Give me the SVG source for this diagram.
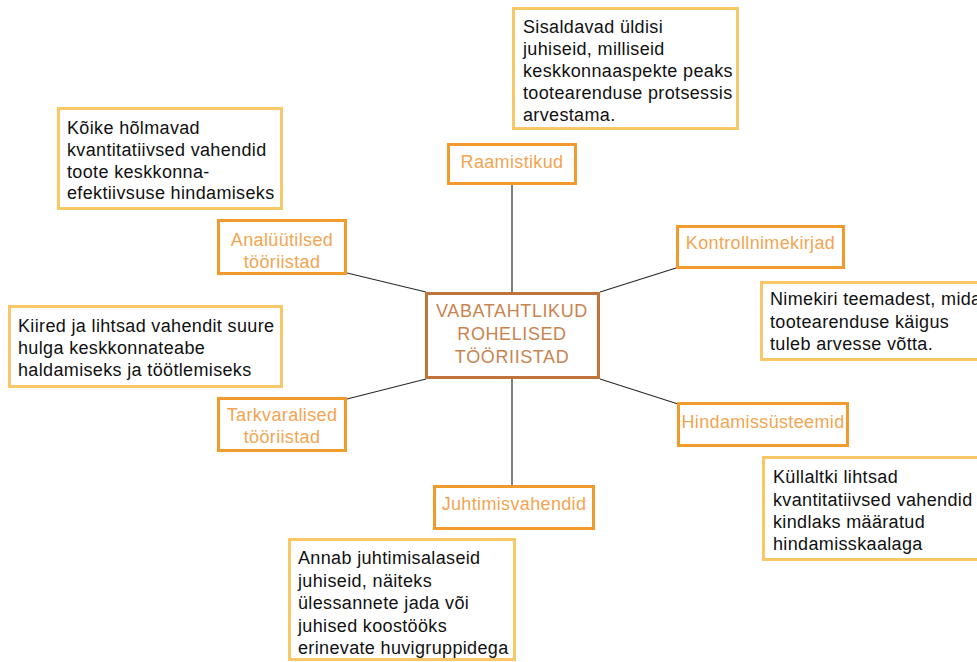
<svg xmlns="http://www.w3.org/2000/svg" width="977" height="662" viewBox="0 0 977 662">
  <style>
    text { font-family: "Liberation Sans", Arial, sans-serif; font-size: 18px; letter-spacing: 0.35px; }
    .hub rect { fill: #ffffff; stroke: #c0733a; stroke-width: 3; }
    .hub text { fill: #c9844f; text-anchor: middle; letter-spacing: 0.6px; }
    .tool rect { fill: #ffffff; stroke: #f09b2c; stroke-width: 3; }
    .tool text { fill: #f2a552; text-anchor: middle; }
    .note rect { fill: #ffffff; stroke: #f8c766; stroke-width: 3; }
    .note text { fill: #111111; }
    .links line { stroke: #2a2a2a; stroke-width: 1.2; }
  </style>
  <rect width="977" height="662" fill="#ffffff"/>

  <g class="links">
    <line x1="512" y1="185" x2="512" y2="292"/>
    <line x1="512" y1="379" x2="512" y2="485"/>
    <line x1="347" y1="273" x2="426" y2="292"/>
    <line x1="676" y1="268" x2="600" y2="292"/>
    <line x1="347" y1="399" x2="426" y2="379"/>
    <line x1="600" y1="379" x2="678" y2="404"/>
  </g>

  <g id="center" class="hub">
    <rect x="426.5" y="293.5" width="172" height="84"/>
    <text x="512" y="317">VABATAHTLIKUD</text>
    <text x="512" y="340">ROHELISED</text>
    <text x="512" y="363">TÖÖRIISTAD</text>
  </g>

  <g id="raamistikud" class="tool">
    <rect x="448.5" y="144.5" width="127" height="39"/>
    <text x="512" y="168">Raamistikud</text>
  </g>
  <g id="raamistikud-note" class="note">
    <rect x="513.5" y="8.5" width="224" height="120"/>
    <text x="523" y="33">Sisaldavad üldisi</text>
    <text x="523" y="55">juhiseid, milliseid</text>
    <text x="523" y="77">keskkonnaaspekte peaks</text>
    <text x="523" y="99">tootearenduse protsessis</text>
    <text x="523" y="121">arvestama.</text>
  </g>

  <g id="kontrollnimekirjad" class="tool">
    <rect x="677.5" y="226.5" width="166" height="41"/>
    <text x="760.5" y="249">Kontrollnimekirjad</text>
  </g>
  <g id="kontrollnimekirjad-note" class="note">
    <rect x="761.5" y="282.5" width="240" height="77"/>
    <text x="770" y="305">Nimekiri teemadest, mida</text>
    <text x="770" y="328">tootearenduse käigus</text>
    <text x="770" y="350">tuleb arvesse võtta.</text>
  </g>

  <g id="hindamissusteemid" class="tool">
    <rect x="678.5" y="403.5" width="169" height="42"/>
    <text x="763" y="428">Hindamissüsteemid</text>
  </g>
  <g id="hindamissusteemid-note" class="note">
    <rect x="763.5" y="457.5" width="240" height="102"/>
    <text x="773" y="483">Küllaltki lihtsad</text>
    <text x="773" y="506">kvantitatiivsed vahendid</text>
    <text x="773" y="528">kindlaks määratud</text>
    <text x="773" y="550">hindamisskaalaga</text>
  </g>

  <g id="juhtimisvahendid" class="tool">
    <rect x="434.5" y="486.5" width="159" height="42"/>
    <text x="514" y="510">Juhtimisvahendid</text>
  </g>
  <g id="juhtimisvahendid-note" class="note">
    <rect x="289.5" y="539.5" width="225" height="120"/>
    <text x="298" y="564">Annab juhtimisalaseid</text>
    <text x="298" y="587">juhiseid, näiteks</text>
    <text x="298" y="609">ülessannete jada või</text>
    <text x="298" y="632">juhised koostööks</text>
    <text x="298" y="654">erinevate huvigruppidega</text>
  </g>

  <g id="analuutilsed" class="tool">
    <rect x="218.5" y="220.5" width="127" height="53"/>
    <text x="282" y="246">Analüütilsed</text>
    <text x="282" y="268">tööriistad</text>
  </g>
  <g id="analuutilsed-note" class="note">
    <rect x="58.5" y="108.5" width="223" height="100"/>
    <text x="67" y="134">Kõike hõlmavad</text>
    <text x="67" y="156">kvantitatiivsed vahendid</text>
    <text x="67" y="178">toote keskkonna-</text>
    <text x="67" y="199">efektiivsuse hindamiseks</text>
  </g>

  <g id="tarkvaralised" class="tool">
    <rect x="218.5" y="398.5" width="127" height="52"/>
    <text x="282" y="421">Tarkvaralised</text>
    <text x="282" y="443">tööriistad</text>
  </g>
  <g id="tarkvaralised-note" class="note">
    <rect x="9.5" y="306.5" width="272" height="80"/>
    <text x="18" y="332">Kiired ja lihtsad vahendit suure</text>
    <text x="18" y="354">hulga keskkonnateabe</text>
    <text x="18" y="376">haldamiseks ja töötlemiseks</text>
  </g>
</svg>
